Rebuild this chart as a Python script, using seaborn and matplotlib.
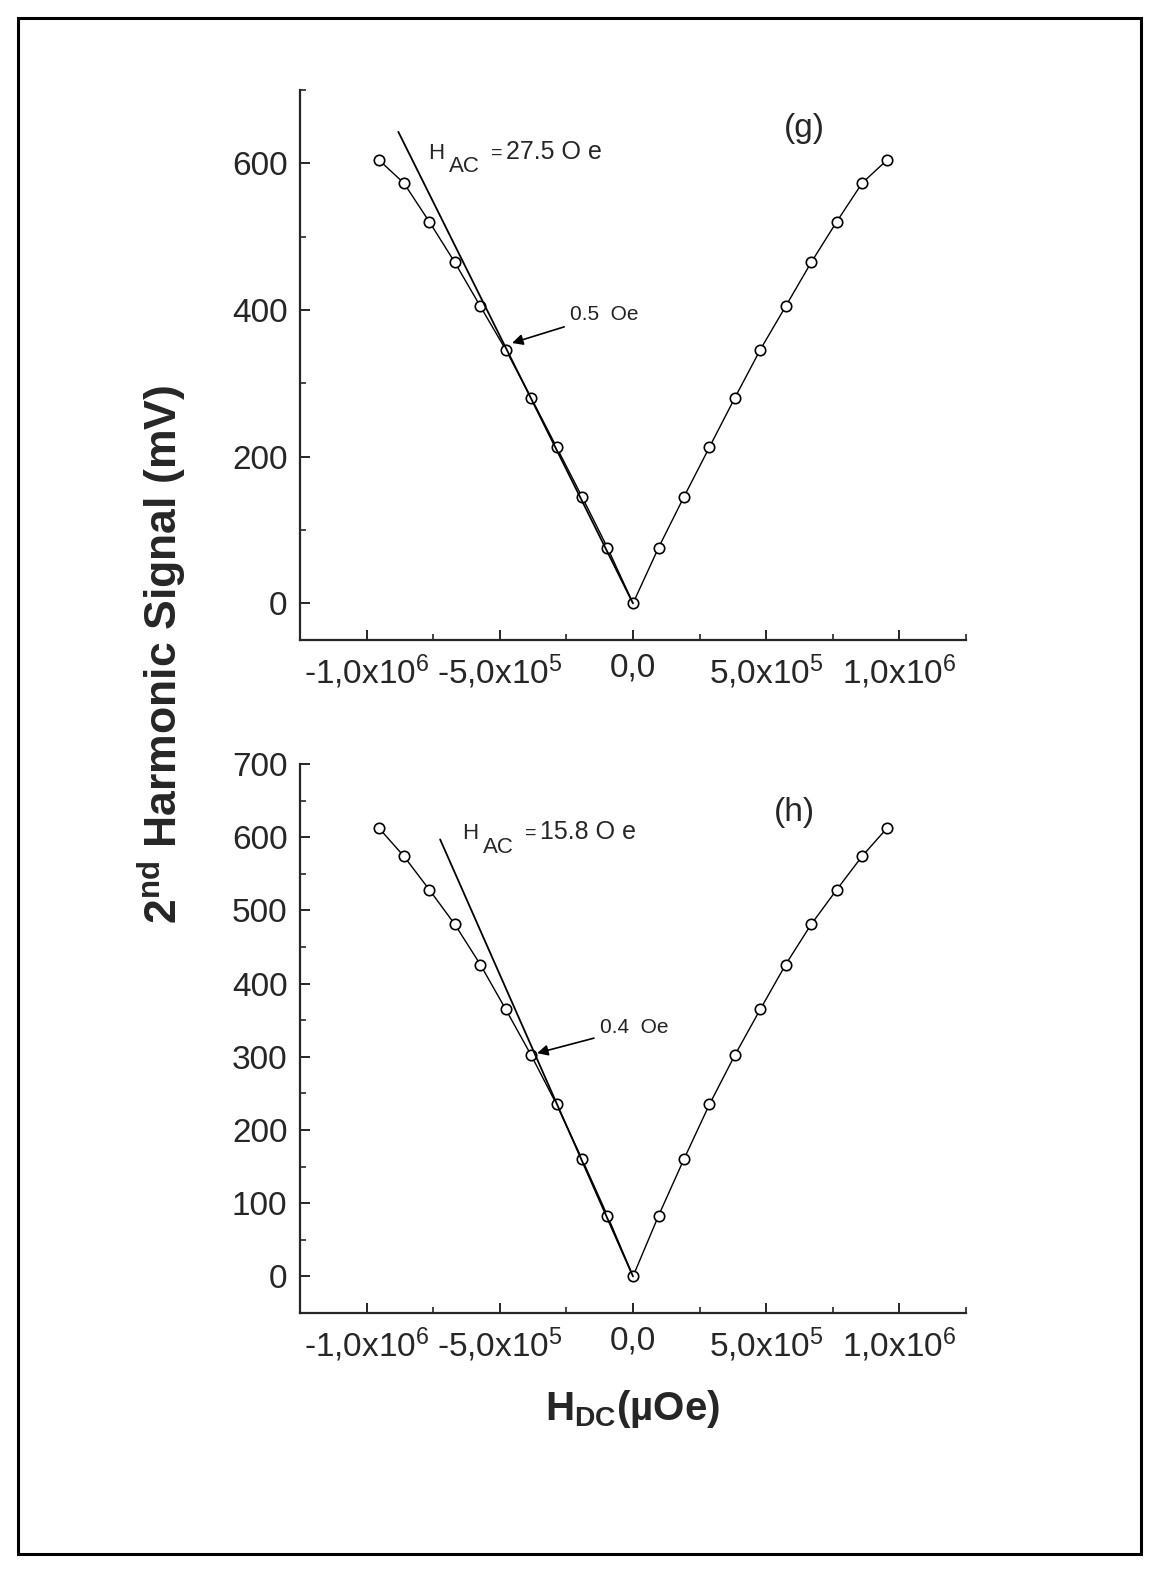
import numpy as np
import matplotlib
matplotlib.use('Agg')
import matplotlib.pyplot as plt
import matplotlib.patches as patches
from matplotlib.ticker import MultipleLocator, FixedLocator, FixedFormatter
import seaborn as sns

# DC field steps (µOe) shared by both panels
h_dc = [-955e3, -860e3, -764e3, -669e3, -573e3, -478e3, -382e3, -287e3, -191e3, -96e3, 0,
        96e3, 191e3, 287e3, 382e3, 478e3, 573e3, 669e3, 764e3, 860e3, 955e3]

# panel (g), H_AC = 27.5 Oe
signal_g = [605, 573, 520, 465, 405, 346, 280, 213, 145, 76, 0,
            76, 145, 213, 280, 346, 405, 465, 520, 573, 605]
tangent_g_x = [-881e3, 0]
tangent_g_y = [643, 0]

# panel (h), H_AC = 15.8 Oe
signal_h = [613, 574, 528, 481, 426, 365, 302, 235, 160, 83, 0,
            83, 160, 235, 302, 365, 426, 481, 528, 574, 613]
tangent_h_x = [-724e3, 0]
tangent_h_y = [597, 0]

xtick_vals = [-1e6, -5e5, 0, 5e5, 1e6]
xtick_labels = ['-1,0x10$^6$', '-5,0x10$^5$', '0,0', '5,0x10$^5$', '1,0x10$^6$']

sns.set_style('ticks')
plt.rcParams['font.family'] = ['Liberation Sans', 'DejaVu Sans']
plt.rcParams['mathtext.fontset'] = 'custom'
plt.rcParams['mathtext.rm'] = 'Liberation Sans'
plt.rcParams['mathtext.it'] = 'Liberation Sans:italic'
plt.rcParams['mathtext.bf'] = 'Liberation Sans:bold'
plt.rcParams['mathtext.default'] = 'regular'

fig = plt.figure(figsize=(11.57, 15.71), dpi=100)
W, H = 1157, 1571

# outer frame
fig.patches.append(patches.Rectangle((18 / W, 1 - 1554 / H), (1141 - 18) / W, (1554 - 18) / H,
                                     transform=fig.transFigure, fill=False,
                                     edgecolor='black', linewidth=2.2))

ax_g = fig.add_axes([300 / W, 1 - 640 / H, 666 / W, 550 / H])
ax_h = fig.add_axes([300 / W, 1 - 1313 / H, 666 / W, 549 / H])


def draw_panel(ax, y, tx, ty):
    sns.lineplot(x=h_dc, y=y, ax=ax, color='black', linewidth=1.0, sort=False,
                 marker='o', markersize=7.5, markerfacecolor='white',
                 markeredgecolor='black', markeredgewidth=1.2)
    sns.lineplot(x=tx, y=ty, ax=ax, color='black', linewidth=1.3, sort=False)
    ax.set_xlim(-1.25e6, 1.25e6)
    ax.set_ylim(-50, 700)
    ax.xaxis.set_major_locator(FixedLocator(xtick_vals))
    ax.xaxis.set_major_formatter(FixedFormatter(xtick_labels))
    ax.xaxis.set_minor_locator(MultipleLocator(2.5e5))
    for s in ['top', 'right']:
        ax.spines[s].set_visible(False)
    for s in ['left', 'bottom']:
        ax.spines[s].set_linewidth(1.6)
    ax.tick_params(which='major', direction='in', length=7, width=1.4,
                   labelsize=24, pad=9)
    ax.tick_params(which='minor', direction='in', length=4, width=1.2)
    ax.set_xlabel('')
    ax.set_ylabel('')


def hac_label(ax, x, y, value):
    # "H" with a large lowered "AC" subscript, then the value with wide spacing
    ax.annotate('H', xy=(x, y), xytext=(0, 0), textcoords='offset points',
                fontsize=16, ha='left', va='baseline')
    ax.annotate('AC', xy=(x, y), xytext=(15, -9.5), textcoords='offset points',
                fontsize=16, ha='left', va='baseline')
    ax.annotate('=', xy=(x, y), xytext=(45, 1), textcoords='offset points',
                fontsize=14, ha='left', va='baseline')
    ax.annotate(value + ' O e', xy=(x, y), xytext=(56, 0), textcoords='offset points',
                fontsize=18, ha='left', va='baseline')


draw_panel(ax_g, signal_g, tangent_g_x, tangent_g_y)
ax_g.yaxis.set_major_locator(FixedLocator([0, 200, 400, 600]))
ax_g.yaxis.set_minor_locator(FixedLocator([100, 300, 500, 700]))
hac_label(ax_g, -769e3, 606, '27.5')
ax_g.text(645e3, 648, '(g)', fontsize=24, ha='center', va='center')
ax_g.annotate('0.5  Oe', xy=(-454e3, 355), xytext=(-236e3, 394), fontsize=15,
              ha='left', va='center', color='#222222',
              arrowprops=dict(arrowstyle='-|>', color='black', lw=1.2,
                              mutation_scale=16, shrinkA=2, shrinkB=0))

draw_panel(ax_h, signal_h, tangent_h_x, tangent_h_y)
ax_h.yaxis.set_major_locator(MultipleLocator(100))
ax_h.yaxis.set_minor_locator(MultipleLocator(50))
hac_label(ax_h, -641e3, 597, '15.8')
ax_h.text(607e3, 634, '(h)', fontsize=24, ha='center', va='center')
ax_h.annotate('0.4  Oe', xy=(-360e3, 305), xytext=(-124e3, 340), fontsize=15,
              ha='left', va='center', color='#222222',
              arrowprops=dict(arrowstyle='-|>', color='black', lw=1.2,
                              mutation_scale=16, shrinkA=2, shrinkB=0))

fig.text(162 / W, 1 - 655 / H, '2$^{\\mathbf{nd}}$ Harmonic Signal (mV)', fontsize=32,
         fontweight='bold', rotation=90, ha='center', va='center')
fig.text(633 / W, 1 - 1420 / H, 'H$_{\\mathbf{DC}}$(µOe)', fontsize=29,
         fontweight='bold', ha='center', va='baseline')

fig.savefig('out.png', dpi=100, facecolor='white')
